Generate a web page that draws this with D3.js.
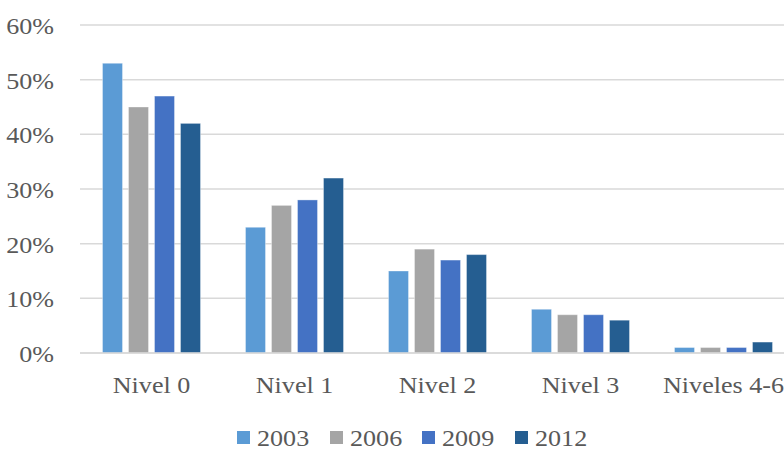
<!DOCTYPE html>
<html><head><meta charset="utf-8">
<script src="https://cdn.jsdelivr.net/npm/d3@7"></script>
<style>body{margin:0;background:#fff;overflow:hidden}svg{display:block}</style>
</head><body>
<script>
const categories = ["Nivel 0","Nivel 1","Nivel 2","Nivel 3","Niveles 4-6"];
const seriesNames = ["2003","2006","2009","2012"];
const v2003 = [53,23,15,8,1];
const v2006 = [45,27,19,7,1];
const v2009 = [47,28,17,7,1];
const v2012 = [42,32,18,6,2];
const yTicks = [0,10,20,30,40,50,60];
const colors = ["#5B9BD5","#A5A5A5","#4472C4","#255E91"];
const seriesValues = [v2003,v2006,v2009,v2012];

(function(){
const W=784,H=451;
const svg=d3.select("body").append("svg").attr("width",W).attr("height",H);
const plotLeft=80, plotW=143*5, plotTop=25, plotBottom=353;
const x=d3.scaleBand().domain(categories).range([plotLeft,plotLeft+plotW]).paddingInner(0).paddingOuter(0);
const y=d3.scaleLinear().domain([0,60]).range([plotBottom,plotTop]);
const fs=22.5, sx=1.16;
function styleText(sel){
  return sel.style("font-family",'"Liberation Serif"').attr("font-size",fs).attr("fill","#595959");
}

svg.append("g").selectAll("line").data(yTicks).join("line")
 .attr("x1",plotLeft).attr("x2",plotLeft+plotW)
 .attr("y1",d=>y(d)).attr("y2",d=>y(d))
 .attr("stroke","#D9D9D9").attr("stroke-width",1.5);

styleText(svg.append("g").selectAll("text").data(yTicks).join("text")
 .attr("transform",d=>`translate(54,${y(d)+9}) scale(${sx},1)`).attr("text-anchor","end")
 .text(d=>d+"%"));

const barW=20, step=26, groupW=step*3+barW;

seriesNames.forEach((s,i)=>{
  svg.append("g").selectAll("rect").data(categories).join("rect")
   .attr("x",(c)=>x(c)+(x.bandwidth()-groupW)/2+i*step)
   .attr("width",barW)
   .attr("y",(c,j)=>y(seriesValues[i][j]))
   .attr("height",(c,j)=>plotBottom-y(seriesValues[i][j]))
   .attr("fill",colors[i]).attr("stroke","rgba(255,255,255,0.35)").attr("stroke-width",1);
});

svg.append("line").attr("x1",plotLeft).attr("x2",plotLeft+plotW).attr("y1",plotBottom).attr("y2",plotBottom)
 .attr("stroke","#D9D9D9").attr("stroke-width",1.5);

styleText(svg.append("g").selectAll("text").data(categories).join("text")
 .attr("transform",c=>`translate(${x(c)+x.bandwidth()/2},393) scale(${sx},1)`).attr("text-anchor","middle")
 .text(c=>c));

const legX=[237,330,422,515];
const lg=svg.append("g");
seriesNames.forEach((s,i)=>{
  lg.append("rect").attr("x",legX[i]).attr("y",431).attr("width",13).attr("height",13).attr("fill",colors[i]);
  styleText(lg.append("text").attr("transform",`translate(${legX[i]+20},446) scale(${sx},1)`).text(s));
});
})();
</script>
</body></html>
